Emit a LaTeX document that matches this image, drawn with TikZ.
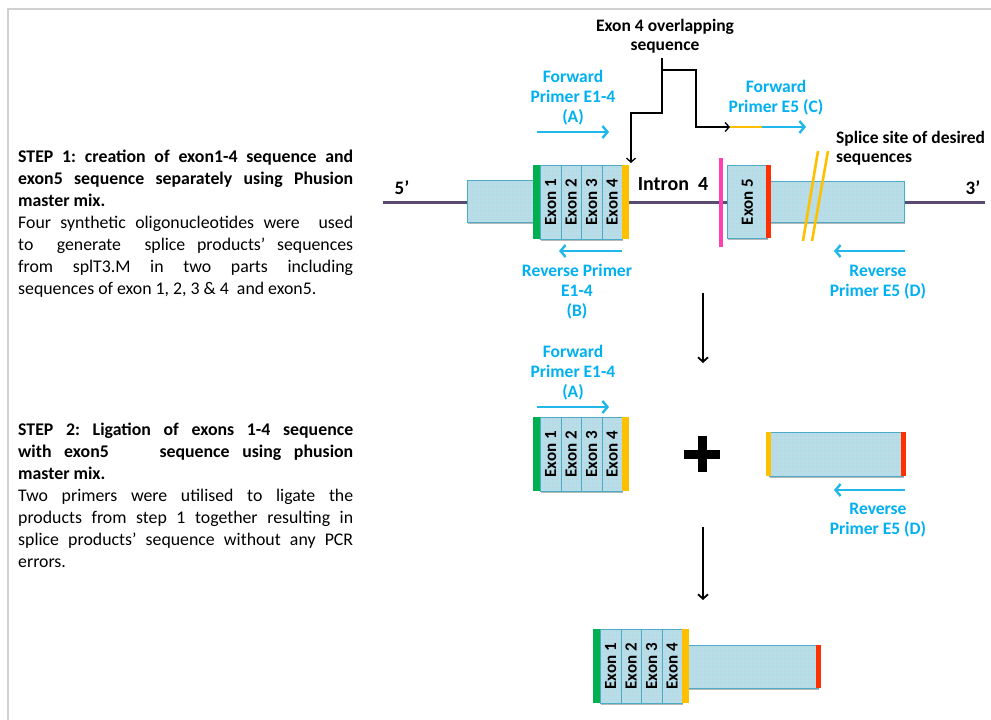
\documentclass[tikz,border=0pt]{standalone}
\usepackage{fontspec}
\setmainfont{Carlito}
\usetikzlibrary{arrows.meta,shadows,patterns}
\frenchspacing

% faint dotted texture used inside the sequence boxes
\pgfdeclarepatternformonly{pdots}{\pgfpointorigin}{\pgfqpoint{4pt}{4pt}}{\pgfqpoint{4pt}{4pt}}{%
  \pgfpathcircle{\pgfqpoint{1pt}{1pt}}{0.6pt}\pgfusepath{fill}}

\definecolor{labblue}{RGB}{0,176,240}
\definecolor{arrblue}{RGB}{32,183,234}
\definecolor{boxfill}{RGB}{183,222,232}
\definecolor{boxedge}{RGB}{75,172,198}
\definecolor{dotpink}{RGB}{206,186,204}
\definecolor{exgreen}{RGB}{0,176,80}
\definecolor{exyellow}{RGB}{255,192,0}
\definecolor{exred}{RGB}{255,48,0}
\definecolor{expink}{RGB}{255,64,176}
\definecolor{dnaline}{RGB}{90,74,112}
\definecolor{framegray}{RGB}{208,208,208}

\tikzset{
  gbox/.style={drop shadow={shadow xshift=0.8pt, shadow yshift=-1.8pt, opacity=0.4, fill=black!70},
    preaction={fill=boxfill}, draw=boxedge, line width=0.8pt, pattern=pdots, pattern color=dotpink},
  cell/.style={gbox, minimum width=20.5pt, minimum height=74pt, inner sep=0pt, anchor=north west,
    font=\bfseries\fontsize{17}{17}\selectfont},
  blab/.style={text=labblue, font=\bfseries\fontsize{17.5}{20}\selectfont, align=center, inner sep=0pt},
  klab/.style={font=\bfseries\fontsize{17.5}{19.5}\selectfont, align=center, inner sep=0pt},
  primer/.style={draw=arrblue, line width=2.4pt, -{Straight Barb[length=5pt,width=12pt]}},
  conn/.style={draw=black, line width=1.3pt},
  connarrow/.style={conn, -{Straight Barb[length=4pt,width=9pt]}},
  downarrow/.style={draw=black, line width=1.8pt, -{Straight Barb[length=4.5pt,width=10pt]}},
  steptext/.style={anchor=north west, inner sep=0pt, text width=335pt, align=justify,
    font=\fontsize{17.8}{22}\selectfont},
  exonblock/.pic={
    \foreach \i in {1,...,4}{
      \node[cell] (-c\i) at ({7+20.5*(\i-1)},0) {\rotatebox{90}{Exon \i}};
    }
    \fill[exgreen] (0,0) rectangle (7,74);
    \fill[exyellow] (89,0) rectangle (96,74);
  }
}

\begin{document}
\begin{tikzpicture}[x=1pt, y=-1pt]
\useasboundingbox (0,0) rectangle (991,720);

% page frame
\draw[framegray, line width=2pt] (8,720) -- (8,9) -- (991,9);

% ---------- left-hand description ----------
\node[steptext] (s1) at (18,150) {\textbf{STEP 1: creation of exon1-4 sequence and\linebreak
  exon5 sequence separately using Phusion\linebreak master mix.}\\
  Four synthetic oligonucleotides were \ used\linebreak
  to \ generate \ splice products’ sequences\linebreak
  from splT3.M in two parts including\linebreak
  sequences of exon 1, 2, 3 \& 4 \ and exon5.};

\node[steptext] (s2) at (18,423) {\textbf{STEP 2: Ligation of exons 1-4 sequence\linebreak
  with exon5 \ \ \ sequence using phusion\linebreak master mix.}\\
  Two primers were utilised to ligate the\linebreak
  products from step 1 together resulting in\linebreak
  splice products’ sequence without any PCR\linebreak
  errors.};

% ---------- step 1: gene with intron ----------
\coordinate (l5) at (383,202);
\coordinate (l3) at (985,202);
\draw[dnaline, line width=3pt] (l5) -- (l3);
\node[klab, font=\bfseries\fontsize{19}{19}\selectfont] (five) at (402,188) {5’};
\node[klab, font=\bfseries\fontsize{19}{19}\selectfont] (three) at (973,188) {3’};

\draw[gbox] (467,180) rectangle (535,222);
\pic (blk1) at (533,165) {exonblock};

\node[klab, font=\bfseries\fontsize{20}{20}\selectfont] (intron) at (673,184) {Intron \ 4};

\draw[expink, line width=4pt] (721,158) -- (721,247);
\draw[gbox] (769,181) rectangle (904,222);
\node[gbox, minimum width=40pt, minimum height=73pt, inner sep=0pt, anchor=north west,
  font=\bfseries\fontsize{17}{17}\selectfont] (ex5) at (727,165) {\rotatebox{90}{Exon 5}};
\fill[exred] (766,165) rectangle (771,238);

% splice site marks
\draw[exyellow, line width=2.6pt] (818,151) -- (803,241);
\draw[exyellow, line width=2.6pt] (828,151) -- (812,241);
\node[klab, align=left, anchor=west] (splice) at (836,148) {Splice site of desired\\sequences};

% primers
\node[blab] (fA) at (573,98) {Forward\\Primer E1-4\\(A)};
\coordinate (fAs) at (537,132); \coordinate (fAe) at (609,132);
\draw[primer] (fAs) -- (fAe);

\node[blab] (fC) at (776,98) {Forward\\Primer E5 (C)};
\coordinate (fCs) at (730,127); \coordinate (fCm) at (762,127); \coordinate (fCe) at (806,127);
\draw[exyellow, line width=2.4pt] (fCs) -- (fCm);
\draw[primer] (fCm) -- (fCe);

\coordinate (rBs) at (622,251); \coordinate (rBe) at (559,251);
\draw[primer] (rBs) -- (rBe);
\node[blab] (rB) at (577,292) {Reverse Primer\\E1-4\\(B)};

\coordinate (rDs) at (905,251); \coordinate (rDe) at (834,251);
\draw[primer] (rDs) -- (rDe);
\node[blab] (rD) at (878,282) {Reverse\\Primer E5 (D)};

% overlap annotation
\node[klab] (ovl) at (665,36) {Exon 4 overlapping\\sequence};
\coordinate (ovtop) at (662,58);
\coordinate (ovj) at (662,70);
\draw[connarrow] (ovtop) -- (662,113) -- (631,113) -- (631,163);
\draw[connarrow] (ovj) -- (696,70) -- (696,127) -- (fCs);

% ---------- step 2: ligation ----------
\coordinate (d1s) at (703,293); \coordinate (d1e) at (703,363);
\draw[downarrow] (d1s) -- (d1e);

\node[blab] (fA2) at (573,373) {Forward\\Primer E1-4\\(A)};
\coordinate (fA2s) at (537,407); \coordinate (fA2e) at (609,407);
\draw[primer] (fA2s) -- (fA2e);

\pic (blk2) at (533,417) {exonblock};

\node[inner sep=0pt, minimum size=36pt] (plus) at (702,454) {};
\draw[line width=9pt] (plus.west) -- (plus.east);
\draw[line width=9pt] (plus.north) -- (plus.south);

\draw[gbox] (769,432) rectangle (903,476);
\fill[exyellow] (766,432) rectangle (771,476);
\fill[exred] (901,432) rectangle (906,476);

\coordinate (rD2s) at (905,490); \coordinate (rD2e) at (834,490);
\draw[primer] (rD2s) -- (rD2e);
\node[blab] (rD2) at (878,520) {Reverse\\Primer E5 (D)};

% ---------- step 3: ligated product ----------
\coordinate (d2s) at (703,527); \coordinate (d2e) at (703,600);
\draw[downarrow] (d2s) -- (d2e);

\draw[gbox] (687,645) rectangle (818,688);
\fill[exred] (816,645) rectangle (821,688);
\pic (blk3) at (593,629) {exonblock};

\end{tikzpicture}
\end{document}
